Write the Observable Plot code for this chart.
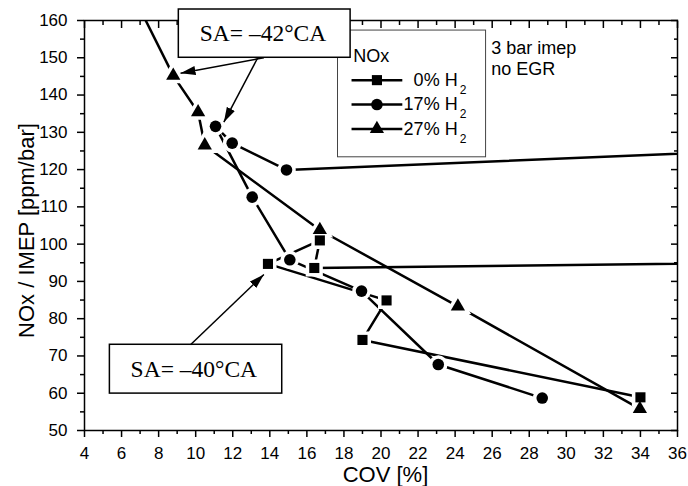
<!DOCTYPE html>
<html>
<head>
<meta charset="utf-8">
<script src="https://cdn.jsdelivr.net/npm/d3@7"></script>
<script src="https://cdn.jsdelivr.net/npm/@observablehq/plot@0.6"></script>
<style>
  body { margin: 0; background: #fff; }
</style>
</head>
<body>
<div id="chart"></div>
<script>
// ---- Data ----
// 0% H2 (squares), path order as drawn; first point lies beyond the x range
const cov0 = [50, 16.4, 16.7, 13.9, 20.3, 19.0, 34.0];
const nox0 = [95.6, 93.6, 101.0, 94.7, 84.9, 74.3, 58.9];
// 17% H2 (circles); first point lies beyond the x range
const cov17 = [50, 14.9, 11.97, 11.07, 13.05, 15.08, 18.95, 23.09, 28.7];
const nox17 = [127.1, 119.9, 127.1, 131.6, 112.6, 95.8, 87.4, 67.7, 58.7];
// 27% H2 (triangles); first point lies above the y range
const cov27 = [6.3, 8.79, 10.13, 10.49, 16.7, 24.15, 33.97];
const nox27 = [170, 145.2, 135.4, 126.5, 103.8, 83.3, 55.8];

const seriesNames = ["0% H2", "17% H2", "27% H2"];
const seriesSymbols = ["square", "circle", "triangle"];
const seriesR = [5.7, 5.8, 5.3];

// Axis ticks
const xMajor = d3.range(4, 37, 2);
const xMinor = d3.range(5, 36, 2);
const yMajor = d3.range(50, 161, 10);
const yMinor = d3.range(55, 160, 10);

// Legend (data coordinates)
const legendBoxX = [17.68, 25.67];
const legendBoxY = [157.3, 123.3];
const legendTitle = "NOx";
const legendTitlePos = [18.5, 150.5];
const legendRowY = [144.0, 137.45, 130.9];
const legendLineX = [18.41, 21.15];
const legendMarkX = 19.78;
const legendTextX = 21.22;
const legendLabels = ["\u20070% H2", "17% H2", "27% H2"];

// Condition note
const noteLines = ["3 bar imep", "no EGR"];
const noteX = 25.95;
const noteY = [152.6, 146.9];

// Annotations
const annLabels = ["SA= \u201342\u00B0CA", "SA= \u201340\u00B0CA"];
const annTextX = [13.63, 9.9];
const annTextY = [156.43, 66.31];
const annBoxX1 = [9.09, 5.37];
const annBoxX2 = [18.36, 14.67];
const annBoxY1 = [162.95, 73.0];
const annBoxY2 = [150.0, 59.9];
const arrowX1 = [13.68, 13.35, 9.72];
const arrowY1 = [150.0, 150.0, 73.0];
const arrowX2 = [9.18, 11.52, 13.68];
const arrowY2 = [145.86, 132.71, 91.85];

// ---- Build ----
const rows = [
  cov0.map((x, i) => ({x, y: nox0[i]})),
  cov17.map((x, i) => ({x, y: nox17[i]})),
  cov27.map((x, i) => ({x, y: nox27[i]}))
];

const tickW = 1.5;
const marks = [
  Plot.frame({stroke: "black", strokeWidth: 1.5}),
  Plot.axisX({anchor: "bottom", ticks: xMajor, tickSize: 7, tickPadding: 9, fontSize: 17, strokeWidth: tickW, tickFormat: d => String(d), label: null}),
  Plot.axisX({anchor: "bottom", ticks: xMinor, tickSize: 4, strokeWidth: tickW, tickFormat: () => "", label: null}),
  Plot.axisX({anchor: "top", ticks: xMajor, tickSize: 7, dy: 7, strokeWidth: tickW, tickFormat: () => "", label: null}),
  Plot.axisX({anchor: "top", ticks: xMinor, tickSize: 4, dy: 4, strokeWidth: tickW, tickFormat: () => "", label: null}),
  Plot.axisY({anchor: "left", ticks: yMajor, tickSize: 7, tickPadding: 10, fontSize: 17, strokeWidth: tickW, tickFormat: d => String(d), label: null}),
  Plot.axisY({anchor: "left", ticks: yMinor, tickSize: 4, strokeWidth: tickW, tickFormat: () => "", label: null}),
  Plot.axisY({anchor: "right", ticks: yMajor, tickSize: 7, dx: -7, strokeWidth: tickW, tickFormat: () => "", label: null}),
  Plot.axisY({anchor: "right", ticks: yMinor, tickSize: 4, dx: -4, strokeWidth: tickW, tickFormat: () => "", label: null}),
  // axis titles
  Plot.text(["COV [%]"], {frameAnchor: "bottom", dx: 4.5, dy: 44.5, fontSize: 22, textAnchor: "middle", lineAnchor: "middle"}),
  Plot.text(["NOx / IMEP [ppm/bar]"], {frameAnchor: "left", rotate: -90, dx: -58, dy: 5, fontSize: 22, textAnchor: "middle", lineAnchor: "middle"}),
  // legend box
  Plot.rect([0], {x1: legendBoxX[0], x2: legendBoxX[1], y1: legendBoxY[0], y2: legendBoxY[1], fill: "white", stroke: "#444", strokeWidth: 1})
];

// data lines
rows.forEach(r => {
  marks.push(Plot.line(r, {x: "x", y: "y", stroke: "black", strokeWidth: 2.5, clip: true}));
});
// white halos first (gap between line and symbol), then all symbols
rows.forEach((r, k) => {
  marks.push(Plot.dot(r, {x: "x", y: "y", symbol: seriesSymbols[k], r: seriesR[k], fill: "white", stroke: "white", strokeWidth: 7, clip: true}));
});
rows.forEach((r, k) => {
  marks.push(Plot.dot(r, {x: "x", y: "y", symbol: seriesSymbols[k], r: seriesR[k], fill: "black", stroke: "none", clip: true}));
});

// legend content
marks.push(Plot.text([legendTitle], {x: legendTitlePos[0], y: legendTitlePos[1], textAnchor: "start", lineAnchor: "middle", fontSize: 18}));
legendRowY.forEach((yy, k) => {
  marks.push(Plot.link([yy], {x1: legendLineX[0], x2: legendLineX[1], y1: d => d, y2: d => d, stroke: "black", strokeWidth: 2.5}));
  marks.push(Plot.dot([yy], {x: legendMarkX, y: d => d, symbol: seriesSymbols[k], r: seriesR[k], fill: "black", stroke: "none"}));
});
marks.push(Plot.text(legendLabels, {x: legendTextX, y: (d, i) => legendRowY[i], text: d => d, textAnchor: "start", lineAnchor: "middle", fontSize: 18}));

// note
marks.push(Plot.text(noteLines, {x: noteX, y: (d, i) => noteY[i], text: d => d, textAnchor: "start", lineAnchor: "middle", fontSize: 18}));

// annotation boxes
marks.push(Plot.rect(annLabels, {x1: (d, i) => annBoxX1[i], x2: (d, i) => annBoxX2[i], y1: (d, i) => annBoxY1[i], y2: (d, i) => annBoxY2[i], fill: "white", stroke: "black", strokeWidth: 1.5}));
marks.push(Plot.text(annLabels, {x: (d, i) => annTextX[i], y: (d, i) => annTextY[i], text: d => d, fontFamily: "Liberation Serif", fontSize: 23.5, textAnchor: "middle", lineAnchor: "middle"}));
// arrows
marks.push(Plot.link(arrowX1, {x1: d => d, y1: (d, i) => arrowY1[i], x2: (d, i) => arrowX2[i], y2: (d, i) => arrowY2[i], stroke: "black", strokeWidth: 1.5}));

const svg = Plot.plot({
  width: 688,
  height: 486,
  marginLeft: 84,
  marginRight: 11,
  marginTop: 20,
  marginBottom: 56,
  x: {domain: [4, 36], axis: null, label: null},
  y: {domain: [50, 160], axis: null, label: null},
  style: {fontFamily: "Liberation Sans, Arial, sans-serif", background: "white", color: "black", overflow: "visible"},
  marks
});

// Arrowheads (filled)
const sel = d3.select(svg);
const defs = sel.insert("defs", ":first-child");
defs.append("marker")
  .attr("id", "ah")
  .attr("viewBox", "0 0 15 9")
  .attr("refX", 15).attr("refY", 4.5)
  .attr("markerWidth", 15).attr("markerHeight", 9)
  .attr("markerUnits", "userSpaceOnUse")
  .attr("orient", "auto")
  .append("path").attr("d", "M0,0L15,4.5L0,9Z").attr("fill", "black");
const linkGroups = sel.selectAll('g[aria-label="link"]').nodes();
const arrowGroup = linkGroups[linkGroups.length - 1];
d3.select(arrowGroup).selectAll("path").attr("marker-end", "url(#ah)");

// Subscripts for H2
sel.selectAll("text").each(function () {
  const t = this.textContent;
  const m = t.match(/^(.*H)2$/);
  if (m && this.children.length === 0) {
    this.textContent = m[1];
    d3.select(this).append("tspan").attr("dx", 2).attr("dy", 8).attr("font-size", 12).text("2");
  }
});

document.getElementById("chart").appendChild(svg);
</script>
</body>
</html>
